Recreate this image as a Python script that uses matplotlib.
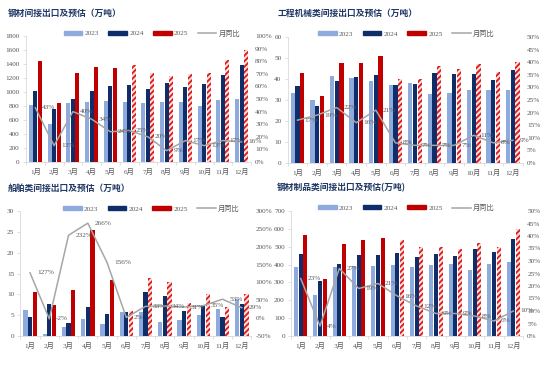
import matplotlib
matplotlib.use('Agg')
import matplotlib.pyplot as plt
import numpy as np
from matplotlib.patches import Patch
from matplotlib.lines import Line2D
from matplotlib.ticker import FuncFormatter, MultipleLocator

plt.rcParams['font.family'] = ['Liberation Serif', 'Noto Sans CJK SC']
plt.rcParams['hatch.linewidth'] = 1.3

# ---------------- data ----------------
months = ['1月', '2月', '3月', '4月', '5月', '6月', '7月', '8月', '9月', '10月', '11月', '12月']
series_names = ['2023', '2024', '2025']
line_name = '月同比'
forecast_from = '6月'   # 2025 values from this month on are estimates

titles = ['钢材间接出口及预估（万吨）', '工程机械类间接出口及预估（万吨）',
          '船舶类间接出口及预估（万吨）', '钢材制品类间接出口及预估(万吨)']

steel_2023 = [812, 540, 845, 855, 874, 855, 845, 855, 860, 797, 888, 902]
steel_2024 = [1017, 754, 907, 1017, 1079, 1098, 1050, 1122, 1065, 1112, 1241, 1380]
steel_2025 = [1447, 836, 1275, 1361, 1342, 1380, 1275, 1232, 1251, 1265, 1456, 1600]
steel_yoy = [43, 13, 40, 34, 24, 25, 20, 9, 17, 13, 17, 16]

mach_2023 = [33.3, 29.8, 41.3, 40.6, 38.9, 37.3, 38.1, 32.7, 33.3, 34.6, 34.9, 34.6]
mach_2024 = [36.5, 27.0, 38.9, 41.0, 42.1, 37.0, 37.5, 43.0, 42.2, 42.5, 39.7, 44.1]
mach_2025 = [43.0, 32.1, 47.5, 47.8, 50.8, 40.2, 40.2, 46.0, 44.9, 47.0, 43.2, 48.1]
mach_yoy = [17, 19, 22, 16, 21, 8, 7, 7, 7, 11, 8, 9]

ship_2023 = [6.2, 0.6, 2.2, 4.2, 3.0, 5.8, 5.8, 3.4, 3.8, 5.0, 6.4, 9.0]
ship_2024 = [4.6, 7.7, 3.2, 6.9, 5.2, 5.8, 10.5, 9.7, 6.0, 7.2, 4.5, 7.7]
ship_2025 = [10.5, 7.4, 11.0, 25.4, 13.4, 6.0, 14.0, 13.0, 8.0, 10.0, 7.0, 10.0]
ship_yoy = [127, -2, 232, 266, 156, 2, 33, 34, 31, 35, 53, 29]

prod_2023 = [384, 229, 384, 391, 393, 395, 389, 395, 402, 372, 406, 415]
prod_2024 = [458, 309, 404, 451, 456, 467, 443, 458, 449, 486, 473, 542]
prod_2025 = [566, 322, 514, 536, 549, 540, 501, 499, 488, 523, 501, 600]
prod_yoy = [23, 4, 27, 19, 21, 16, 12, 9, 9, 8, 6, 10]

# ---------------- style ----------------
C23 = '#8FAADC'
C24 = '#0F2D69'
C25 = '#C00000'
CHATCH = '#E01818'
CLINE = '#A6A6A6'
CTXT = '#595959'
CAX = '#D9D9D9'
CTITLE = '#1F3864'
FS = 5.2

fig = plt.figure(figsize=(5.5, 3.65), dpi=100)


def panel(rect, title, title_xy, v23, v24, v25, yoy, ylim, ystep, rlim, rstep, leg_x, leg_y):
    ax = fig.add_axes(rect)
    x = np.arange(len(months))
    w = 0.22
    ax.bar(x - 0.24, v23, w, color=C23, lw=0, zorder=2)
    ax.bar(x, v24, w, color=C24, lw=0, zorder=2)
    bars = ax.bar(x + 0.24, v25, w, color=C25, lw=0, zorder=2)
    fi = months.index(forecast_from)
    for b in bars.patches[fi:]:
        b.set_facecolor('#FBE0E0')
        b.set_edgecolor(CHATCH)
        b.set_hatch('//////')
        b.set_linewidth(0)
    ax.set_xlim(-0.5, len(months) - 0.5)
    ax.set_ylim(*ylim)
    ax.yaxis.set_major_locator(MultipleLocator(ystep))
    ax.set_xticks(x)
    ax.set_xticklabels(months)
    ax.set_xticks(np.arange(-0.5, len(months), 1), minor=True)
    ax.tick_params(axis='x', which='major', length=0, pad=4, labelsize=FS, labelcolor=CTXT)
    ax.tick_params(axis='x', which='minor', length=2, color=CAX, width=0.6)
    ax.tick_params(axis='y', length=2, color=CAX, width=0.6, pad=2.5, labelsize=FS, labelcolor=CTXT)
    for s in ['top', 'right']:
        ax.spines[s].set_visible(False)
    for s in ['left', 'bottom']:
        ax.spines[s].set_color(CAX)
        ax.spines[s].set_linewidth(0.6)

    ax2 = ax.twinx()
    ax2.set_ylim(*rlim)
    ax2.yaxis.set_major_locator(MultipleLocator(rstep))
    ax2.yaxis.set_major_formatter(FuncFormatter(lambda v, p: f'{v:.0f}%'))
    ax2.tick_params(axis='y', length=0, pad=3, labelsize=FS, labelcolor=CTXT)
    for s in ax2.spines.values():
        s.set_visible(False)
    ax2.plot(x, yoy, color=CLINE, lw=1.1, zorder=3)
    for xi, yi in zip(x, yoy):
        ax2.annotate(f'{yi}%', (xi, yi), xytext=(5, 0), textcoords='offset points',
                     ha='left', va='center', fontsize=FS, color=CTXT)

    handles = [Patch(color=C23), Patch(color=C24), Patch(color=C25),
               Line2D([], [], color=CLINE, lw=1.1)]
    ax.legend(handles, series_names + [line_name], loc='center', bbox_to_anchor=(leg_x, leg_y),
              ncol=4, frameon=False, fontsize=FS, handlelength=2.6, handleheight=0.45,
              handletextpad=0.3, columnspacing=1.3, labelcolor=CTXT, borderaxespad=0)

    fig.text(title_xy[0] / 550, 1 - title_xy[1] / 365, title, ha='left', va='center',
             fontsize=6.3, fontweight='bold', color=CTITLE, family=['Noto Sans CJK SC', 'DejaVu Sans'])
    return ax


panel([26 / 550, 1 - 162 / 365, 225 / 550, 126 / 365], titles[0], (8, 13),
      steel_2023, steel_2024, steel_2025, steel_yoy, (0, 1800), 200, (0, 100), 10, 0.56, 1.024)
panel([287.7 / 550, 1 - 163 / 365, 235 / 550, 126 / 365], titles[1], (278, 13),
      mach_2023, mach_2024, mach_2025, mach_yoy, (0, 60), 10, (0, 50), 5, 0.505, 1.03)
panel([20.4 / 550, 1 - 336 / 365, 231 / 550, 125 / 365], titles[2], (8, 188),
      ship_2023, ship_2024, ship_2025, ship_yoy, (0, 30), 5, (-50, 300), 50, 0.567, 1.024)
panel([291 / 550, 1 - 336 / 365, 232 / 550, 125 / 365], titles[3], (277, 187.5),
      prod_2023, prod_2024, prod_2025, prod_yoy, (0, 700), 100, (0, 50), 5, 0.497, 1.03)

fig.savefig('out.png', dpi=100)
